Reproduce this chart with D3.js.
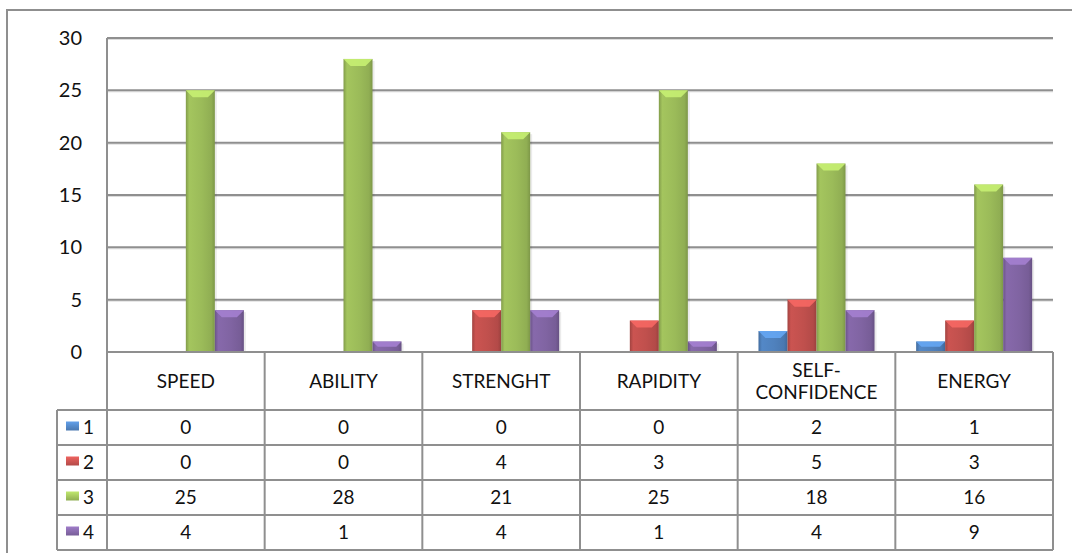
<!DOCTYPE html>
<html>
<head>
<meta charset="utf-8">
<script src="https://cdn.jsdelivr.net/npm/d3@7"></script>
<style>
  html, body { margin: 0; padding: 0; background: #fff; }
  svg { display: block; }
  text { font-family: Lato, "Open Sans", sans-serif; fill: #111; }
</style>
</head>
<body>
<script>
const categories = ["SPEED", "ABILITY", "STRENGHT", "RAPIDITY", "SELF-\nCONFIDENCE", "ENERGY"];
const seriesNames = ["1", "2", "3", "4"];
const series1 = [0, 0, 0, 0, 2, 1];
const series2 = [0, 0, 4, 3, 5, 3];
const series3 = [25, 28, 21, 25, 18, 16];
const series4 = [4, 1, 4, 1, 4, 9];
const yTicks = [0, 5, 10, 15, 20, 25, 30];
const colors = ["#4f81bd", "#c0504d", "#9bbb59", "#8064a2"];

const allSeries = [series1, series2, series3, series4];

const width = 1072, height = 553;
const plot = { left: 107, right: 1053, top: 38, bottom: 352 };
const tableLeft = 57;
const headerBottom = 410;
const rowH = 35;
const gridColor = "#8f8f8f";
const fontSize = 19;

const svg = d3.select("body").append("svg")
  .attr("width", width)
  .attr("height", height);

const defs = svg.append("defs");
colors.forEach((c, i) => {
  const base = d3.color(c);
  const g = defs.append("linearGradient").attr("id", "bar" + i)
    .attr("x1", 0).attr("x2", 1).attr("y1", 0).attr("y2", 0);
  g.append("stop").attr("offset", "0%").attr("stop-color", base.darker(0.5));
  g.append("stop").attr("offset", "12%").attr("stop-color", base.brighter(0.15));
  g.append("stop").attr("offset", "55%").attr("stop-color", base);
  g.append("stop").attr("offset", "88%").attr("stop-color", base.darker(0.2));
  g.append("stop").attr("offset", "100%").attr("stop-color", base.darker(0.6));
});

// outer frame
svg.append("path")
  .attr("d", `M7,${height} L7,10 L${width},10`)
  .attr("fill", "none").attr("stroke", gridColor).attr("stroke-width", 2);

const x = d3.scaleBand().domain(d3.range(categories.length))
  .range([plot.left, plot.right]).paddingInner(0).paddingOuter(0);
const y = d3.scaleLinear().domain([0, 30]).range([plot.bottom, plot.top]);

const groupFrac = 0.736;
const xs = d3.scaleBand().domain(d3.range(seriesNames.length))
  .range([0, x.bandwidth() * groupFrac]);
const groupOffset = x.bandwidth() * (1 - groupFrac) / 2;

// gridlines
const grid = svg.append("g");
grid.selectAll("line.shadow").data(yTicks.filter(t => t > 0)).enter().append("line")
  .attr("class", "shadow")
  .attr("x1", plot.left).attr("x2", plot.right)
  .attr("y1", d => y(d) + 1.5).attr("y2", d => y(d) + 1.5)
  .attr("stroke", "#dcdcdc").attr("stroke-width", 1);
grid.selectAll("line.major").data(yTicks.filter(t => t > 0)).enter().append("line")
  .attr("class", "major")
  .attr("x1", plot.left).attr("x2", plot.right)
  .attr("y1", d => y(d)).attr("y2", d => y(d))
  .attr("stroke", gridColor).attr("stroke-width", 2);

// y axis labels
const yAxis = d3.axisLeft(y).tickValues(yTicks).tickSize(0).tickPadding(25);
const yg = svg.append("g").attr("transform", `translate(${plot.left},0)`).call(yAxis);
yg.select(".domain").remove();
yg.selectAll("text").attr("font-size", 20).attr("font-family", "Lato, 'Open Sans', sans-serif").attr("fill", "#111");

// bars
const bars = svg.append("g");
allSeries.forEach((vals, si) => {
  const g = bars.append("g");
  vals.forEach((v, ci) => {
    if (v <= 0) return;
    const x0 = x(ci) + groupOffset + xs(si);
    const w = xs.bandwidth();
    const y0 = y(v);
    const h = y(0) - y0;
    // soft shadow
    g.append("rect")
      .attr("x", x0 + 2).attr("y", y0 + 2).attr("width", w).attr("height", h - 2)
      .attr("fill", "#000").attr("opacity", 0.08);
    g.append("rect")
      .attr("x", x0).attr("y", y0).attr("width", w).attr("height", h)
      .attr("fill", `url(#bar${si})`);
    const b = Math.min(7, h / 2);
    const c = d3.color(colors[si]);
    g.append("path")
      .attr("d", `M${x0},${y0} L${x0 + w},${y0} L${x0 + w - b},${y0 + b} L${x0 + b},${y0 + b} Z`)
      .attr("fill", c.brighter(0.7)).attr("opacity", 0.9);
  });
});

// table lines
const tbl = svg.append("g").attr("stroke", gridColor).attr("stroke-width", 2).attr("fill", "none");
const tableBottom = headerBottom + rowH * seriesNames.length;
// axis line / header top
tbl.append("line").attr("x1", plot.left).attr("x2", plot.right)
  .attr("y1", plot.bottom).attr("y2", plot.bottom);
// left plot edge
tbl.append("line").attr("x1", plot.left).attr("x2", plot.left)
  .attr("y1", plot.top).attr("y2", tableBottom);
// category separators
d3.range(1, categories.length + 1).forEach(i => {
  const xx = i < categories.length ? x(i) : plot.right;
  tbl.append("line").attr("x1", xx).attr("x2", xx)
    .attr("y1", plot.bottom).attr("y2", tableBottom);
});
// legend column left edge
tbl.append("line").attr("x1", tableLeft).attr("x2", tableLeft)
  .attr("y1", headerBottom).attr("y2", tableBottom);
// row lines
d3.range(seriesNames.length + 1).forEach(r => {
  const yy = headerBottom + r * rowH;
  tbl.append("line").attr("x1", tableLeft).attr("x2", plot.right)
    .attr("y1", yy).attr("y2", yy);
});

// category labels
const catG = svg.append("g");
categories.forEach((c, i) => {
  const lines = c.split("\n");
  const cx = x(i) + x.bandwidth() / 2;
  const mid = (plot.bottom + headerBottom) / 2;
  const lh = 22;
  lines.forEach((ln, li) => {
    catG.append("text")
      .attr("x", cx)
      .attr("y", mid + (li - (lines.length - 1) / 2) * lh)
      .attr("dy", "0.35em")
      .attr("text-anchor", "middle")
      .attr("font-size", fontSize)
      .text(ln);
  });
});

// legend + values
const rowsG = svg.append("g");
seriesNames.forEach((name, si) => {
  const cy = headerBottom + si * rowH + rowH / 2;
  const c = d3.color(colors[si]);
  const lg = defs.append("linearGradient").attr("id", "key" + si)
    .attr("x1", 0).attr("x2", 0).attr("y1", 0).attr("y2", 1);
  lg.append("stop").attr("offset", "0%").attr("stop-color", c.brighter(0.6));
  lg.append("stop").attr("offset", "100%").attr("stop-color", c.darker(0.2));
  rowsG.append("rect")
    .attr("x", tableLeft + 9).attr("y", cy - 6).attr("width", 13).attr("height", 9)
    .attr("fill", `url(#key${si})`);
  rowsG.append("text")
    .attr("x", tableLeft + 26).attr("y", cy).attr("dy", "0.35em")
    .attr("font-size", fontSize).text(name);
  allSeries[si].forEach((v, ci) => {
    rowsG.append("text")
      .attr("x", x(ci) + x.bandwidth() / 2).attr("y", cy).attr("dy", "0.35em")
      .attr("text-anchor", "middle").attr("font-size", fontSize)
      .text(v);
  });
});
</script>
</body>
</html>
